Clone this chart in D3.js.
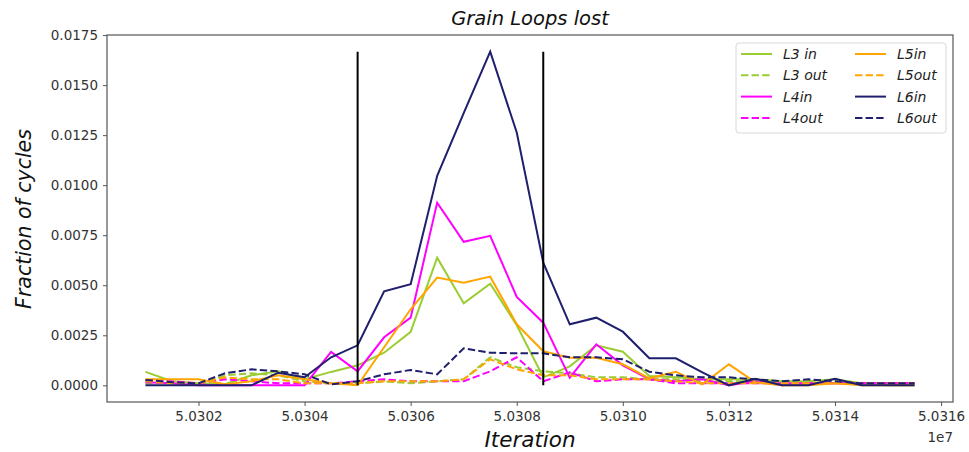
<!DOCTYPE html>
<html>
<head>
<meta charset="utf-8">
<script src="https://cdn.jsdelivr.net/npm/d3@7"></script>
<style>
  html, body { margin: 0; padding: 0; background: #fff; }
  svg text { font-family: "DejaVu Sans", sans-serif; }
</style>
</head>
<body>
<svg id="chart" width="969" height="452"></svg>
<script>
// Iterations sampled every 500 steps
const iterations = d3.range(30).map(i => 50301000 + 500 * i);

const L3in  = [0.00067,0.0002,0.0001,0.00005,0.0005,0.0007,0.0003,0.00067,0.001,0.00163,0.00267,0.00638,0.0041,0.00508,0.003,0.0004,0.00095,0.002,0.00168,0.00047,0.0004,0.0003,0.0003,0.0003,0.0002,0.0002,0.0003,0.0001,0,0];
const L3out = [0.0001,0.0001,0,0.0005,0.0006,0.0005,0.0002,0.0001,0.0001,0.0002,0.0001,0.0002,0.0003,0.0014,0.0009,0.0007,0.0006,0.0004,0.0004,0.0003,0.0003,0.0002,0.0002,0.0002,0.0001,0.0001,0.0001,0.0001,0.0001,0.0001];
const L4in  = [0.00015,0.0001,0,0,0,0,0,0.00167,0.0007,0.0024,0.00338,0.00913,0.00717,0.00747,0.00442,0.00313,0.00038,0.00205,0.001,0.0003,0.0002,0.0003,0,0.0002,0,0.0001,0.0001,0.0001,0.0001,0.0001];
const L4out = [0.0002,0.0002,0.0001,0.0003,0.0002,0.0001,0.0001,0.0001,0.0002,0.0003,0.0002,0.0002,0.0002,0.0007,0.0014,0.0002,0.00065,0.0002,0.0003,0.0003,0.0001,0.0001,0.0001,0.0001,0.0001,0.0001,0.0001,0.0001,0.0001,0.0001];
const L5in  = [0.0003,0.0003,0.0003,0.00005,0.0002,0.0005,0.0003,0.0001,0,0.0019,0.0038,0.00538,0.00513,0.00543,0.00305,0.0017,0.00138,0.00138,0.00105,0.00035,0.00068,0.00005,0.00105,0.00015,0,0,0.0001,0,0,0];
const L5out = [0.0002,0.0001,0.0001,0.0004,0.0003,0.0003,0.0001,0.0001,0.0001,0.0002,0.0002,0.0002,0.0003,0.0013,0.0008,0.0005,0.0005,0.0003,0.0003,0.0003,0.0002,0.0001,0.0001,0.0001,0.0001,0.0001,0.0001,0.0001,0.0001,0.0001];
const L6in  = [0,0,0,0,0,0.00063,0.0004,0.0014,0.002,0.0047,0.00505,0.01047,0.0136,0.01667,0.01263,0.00613,0.00305,0.00338,0.00268,0.00135,0.00135,0.00065,0,0.00033,0,0,0.00033,0,0,0];
const L6out = [0.00027,0.00015,0.0001,0.0006,0.0008,0.0007,0.00055,0.00005,0.0002,0.00055,0.00077,0.00055,0.00185,0.00163,0.0016,0.0016,0.0014,0.0014,0.0013,0.00068,0.0005,0.0004,0.0004,0.0003,0.0002,0.0003,0.0002,0.0001,0.0001,0.0001];

// Window markers
const markers = [50305000, 50308500];

const yTicks = [0, 0.0025, 0.005, 0.0075, 0.01, 0.0125, 0.015, 0.0175];
const xTicks = [50302000, 50304000, 50306000, 50308000, 50310000, 50312000, 50314000, 50316000];

const dashed = "7.4,3.2";
const series = [
  { name: "L3 in",  values: L3in,  color: "#9acd32", dash: null },
  { name: "L3 out", values: L3out, color: "#9acd32", dash: dashed },
  { name: "L4in",   values: L4in,  color: "#ff00ff", dash: null },
  { name: "L4out",  values: L4out, color: "#ff00ff", dash: dashed },
  { name: "L5in",   values: L5in,  color: "#ffa500", dash: null },
  { name: "L5out",  values: L5out, color: "#ffa500", dash: dashed },
  { name: "L6in",   values: L6in,  color: "#1f1f6e", dash: null },
  { name: "L6out",  values: L6out, color: "#1f1f6e", dash: dashed }
];

const svg = d3.select("#chart");
const plotLeft = 107, plotRight = 953, plotTop = 35, plotBottom = 402;

const allVals = series.flatMap(s => s.values);
const yMax = d3.max(allVals), yMin = 0;
const yPad = (yMax - yMin) * 0.05;
const xMin = d3.min(iterations), xMax = d3.max(iterations);
const xPad = (xMax - xMin) * 0.05;

const x = d3.scaleLinear().domain([xMin - xPad, xMax + xPad]).range([plotLeft, plotRight]);
const y = d3.scaleLinear().domain([yMin - yPad, yMax + yPad]).range([plotBottom, plotTop]);

// Axes
const axisColor = "#555";
const xAxis = d3.axisBottom(x).tickValues(xTicks).tickSize(4).tickPadding(5)
  .tickFormat(d => (d / 1e7).toFixed(4));
const yAxis = d3.axisLeft(y).tickValues(yTicks).tickSize(4).tickPadding(5)
  .tickFormat(d => d.toFixed(4));

const gx = svg.append("g").attr("transform", `translate(0,${plotBottom})`).call(xAxis);
const gy = svg.append("g").attr("transform", `translate(${plotLeft},0)`).call(yAxis);
[gx, gy].forEach(g => {
  g.select(".domain").remove();
  g.selectAll(".tick line").attr("stroke", axisColor);
  g.selectAll(".tick text").attr("fill", "#333").style("font-size", "13.5px");
});

// Frame
svg.append("rect").attr("x", plotLeft).attr("y", plotTop)
  .attr("width", plotRight - plotLeft).attr("height", plotBottom - plotTop)
  .attr("fill", "none").attr("stroke", axisColor).attr("stroke-width", 1.2);

// Series lines
const line = d3.line().x((d, i) => x(iterations[i])).y(d => y(d));
const plot = svg.append("g");
series.forEach(s => {
  plot.append("path").datum(s.values)
    .attr("d", line)
    .attr("fill", "none")
    .attr("stroke", s.color)
    .attr("stroke-width", 2)
    .attr("stroke-linejoin", "miter")
    .attr("stroke-dasharray", s.dash);
});

// Vertical markers spanning zero to the peak value
markers.forEach(m => {
  plot.append("line")
    .attr("x1", x(m)).attr("x2", x(m))
    .attr("y1", y(0)).attr("y2", y(yMax))
    .attr("stroke", "#000").attr("stroke-width", 2);
});

// Legend
const lg = svg.append("g");
lg.append("rect").attr("x", 736).attr("y", 43).attr("width", 210).attr("height", 90)
  .attr("rx", 3).attr("fill", "#fff").attr("fill-opacity", 0.85)
  .attr("stroke", "#d8d8d8").attr("stroke-width", 1);
series.forEach((s, i) => {
  const col = Math.floor(i / 4), row = i % 4;
  const lx = 741 + col * 114, ly = 54 + row * 21.3;
  lg.append("line").attr("x1", lx).attr("x2", lx + 31).attr("y1", ly).attr("y2", ly)
    .attr("stroke", s.color).attr("stroke-width", 2).attr("stroke-dasharray", s.dash);
  lg.append("text").attr("x", lx + 42).attr("y", ly + 5)
    .style("font-size", "14px").style("font-style", "italic").attr("fill", "#222")
    .text(s.name);
});

// Titles
svg.append("text").attr("x", 530).attr("y", 25).attr("text-anchor", "middle")
  .style("font-size", "19.5px").style("font-style", "italic").attr("fill", "#111")
  .text("Grain Loops lost");
svg.append("text").attr("x", 530).attr("y", 447).attr("text-anchor", "middle")
  .style("font-size", "21.5px").style("font-style", "italic").attr("fill", "#111")
  .text("Iteration");
svg.append("text").attr("transform", "translate(31,219) rotate(-90)").attr("text-anchor", "middle")
  .style("font-size", "20.5px").style("font-style", "italic").attr("fill", "#111")
  .text("Fraction of cycles");
svg.append("text").attr("x", 953).attr("y", 442).attr("text-anchor", "end")
  .style("font-size", "13.5px").attr("fill", "#333").text("1e7");
</script>
</body>
</html>
